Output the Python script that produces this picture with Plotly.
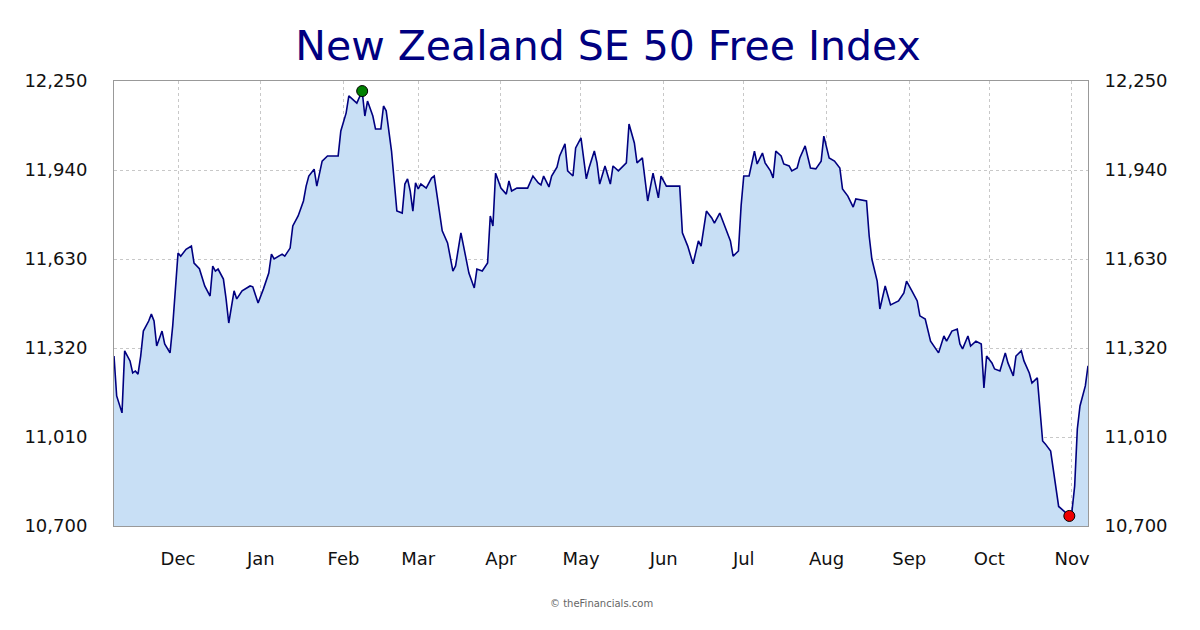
import plotly.graph_objects as go
import datetime as dt

start = dt.date(2022, 11, 7)
day_offsets = [0,1,3,4,6,7,8,9,10,11,13,14,15,16,18,19,21,22,24,25,27,29,30,32,34,36,37,38,39,41,42,43,45,46,48,51,52,54,56,58,59,60,63,64,66,67,69,71,72,73,75,76,78,80,82,84,85,87,88,90,91,93,94,95,97,98,100,101,102,104,105,106,108,109,110,111,112,113,114,115,117,119,120,121,123,125,127,128,130,131,133,135,136,138,140,141,142,143,145,147,148,149,151,155,157,159,160,161,163,164,166,167,169,170,172,173,175,177,178,180,181,182,184,186,187,189,192,193,195,196,198,200,202,204,205,207,212,213,215,217,219,220,222,224,225,227,229,231,232,234,235,236,238,240,241,243,244,246,247,248,250,251,253,254,256,257,259,261,263,265,266,268,270,272,273,275,277,278,282,283,284,286,287,289,291,294,296,297,299,301,302,304,306,308,309,311,312,314,316,317,318,320,321,323,325,326,327,329,330,332,334,335,337,338,340,341,343,344,346,348,349,351,352,354,356,358,359,360,361,362,364,365]
values = [11292,11153,11094,11310,11275,11233,11240,11229,11292,11379,11414,11438,11414,11327,11379,11334,11303,11397,11651,11640,11664,11675,11616,11596,11536,11501,11605,11588,11595,11560,11491,11407,11519,11491,11519,11536,11533,11477,11526,11581,11647,11630,11647,11640,11668,11745,11780,11832,11884,11919,11943,11884,11971,11989,11989,11989,12076,12139,12198,12180,12173,12215,12128,12180,12128,12083,12083,12163,12146,12006,11902,11797,11790,11891,11909,11867,11797,11895,11874,11891,11877,11912,11919,11849,11728,11686,11588,11606,11721,11675,11581,11529,11595,11588,11616,11780,11745,11929,11877,11856,11902,11867,11877,11877,11919,11895,11888,11919,11881,11919,11950,11989,12031,11937,11919,12017,12052,11909,11947,12006,11965,11891,11954,11891,11954,11937,11965,12100,12034,11965,11982,11832,11929,11843,11919,11884,11884,11721,11675,11613,11693,11675,11797,11773,11755,11790,11738,11693,11640,11658,11815,11919,11919,12006,11961,11999,11965,11937,11912,12006,11989,11961,11954,11937,11947,11982,12024,11947,11944,11971,12058,11982,11971,11947,11874,11849,11811,11839,11832,11710,11630,11553,11456,11536,11470,11484,11512,11553,11519,11484,11432,11421,11344,11317,11303,11362,11344,11379,11386,11334,11317,11362,11327,11344,11334,11181,11292,11268,11247,11240,11303,11268,11223,11292,11310,11275,11233,11198,11216,10996,10986,10961,10891,10768,10752,10735,10752,10839,11038,11118,11188,11258]
dates = [start + dt.timedelta(days=d) for d in day_offsets]

tick_vals = [10700, 11010, 11320, 11630, 11940, 12250]
tick_text = ["10,700", "11,010", "11,320", "11,630", "11,940", "12,250"]
month_ticks = [dt.date(2022, 12, 1)] + [dt.date(2023, m, 1) for m in range(1, 12)]
month_labels = ["Dec","Jan","Feb","Mar","Apr","May","Jun","Jul","Aug","Sep","Oct","Nov"]

imax = values.index(max(values))
imin = values.index(min(values))

fig = go.Figure()
fig.add_trace(go.Scatter(x=dates, y=values, mode="lines", line=dict(color="#000080", width=1.6),
                         fill="tozeroy", fillcolor="#c8dff5", hoverinfo="skip"))
fig.add_trace(go.Scatter(x=[dates[imax]], y=[values[imax]], mode="markers",
                         marker=dict(color="#008000", size=11, line=dict(color="#000000", width=1))))
fig.add_trace(go.Scatter(x=[dates[imin]], y=[values[imin]], mode="markers",
                         marker=dict(color="#ee0000", size=11, line=dict(color="#000000", width=1))))
fig.add_trace(go.Scatter(x=[dates[0]], y=[values[0]], yaxis="y2", mode="markers",
                         marker=dict(opacity=0), hoverinfo="skip"))

axis_font = dict(family="DejaVu Sans", size=18, color="#111111")
fig.update_layout(
    width=1200, height=630, showlegend=False,
    paper_bgcolor="white", plot_bgcolor="white",
    margin=dict(l=106, r=120, t=73, b=112, autoexpand=False),
    title=dict(text="New Zealand SE 50 Free Index", x=0.5, xanchor="center", y=0.94, yanchor="middle",
               font=dict(family="DejaVu Sans", size=41, color="#000080")),
    xaxis=dict(range=[start, start + dt.timedelta(days=365)], tickvals=month_ticks, ticktext=month_labels,
               showgrid=True, gridcolor="#c8c8c8", griddash="dot", tickfont=axis_font,
               ticks="outside", ticklen=16, tickcolor="rgba(0,0,0,0)", showline=True, linecolor="#999", mirror=True),
    yaxis=dict(range=[10700, 12250], tickvals=tick_vals, ticktext=tick_text, tickfont=axis_font,
               showgrid=True, gridcolor="#c8c8c8", griddash="dot", ticks="outside", ticklen=22,
               tickcolor="rgba(0,0,0,0)", showline=True, linecolor="#999", zeroline=False),
    yaxis2=dict(range=[10700, 12250], tickvals=tick_vals, ticktext=tick_text, tickfont=axis_font,
                overlaying="y", side="right", showgrid=False, ticks="outside", ticklen=12,
                tickcolor="rgba(0,0,0,0)", showline=True, linecolor="#999", zeroline=False),
    annotations=[dict(text="© theFinancials.com", x=0.5, y=-0.19, xref="paper", yref="paper",
                      showarrow=False, font=dict(family="DejaVu Sans", size=10, color="#666"))],
)
fig.write_html("out.html")
